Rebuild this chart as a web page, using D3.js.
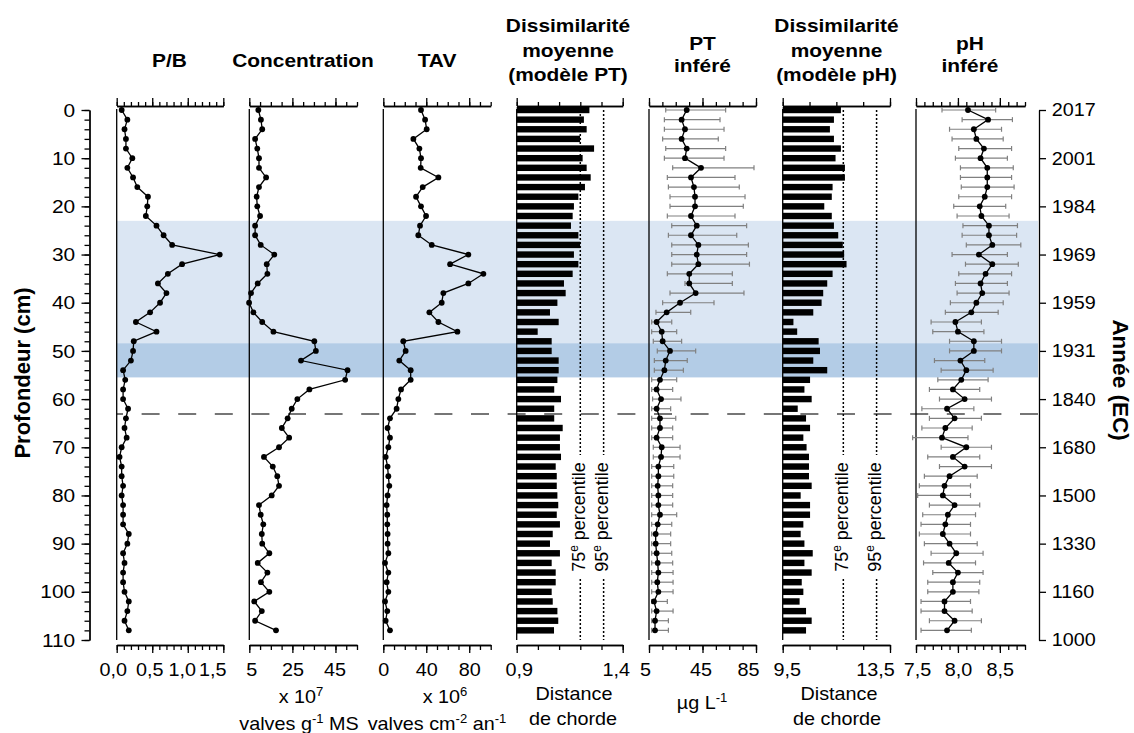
<!DOCTYPE html>
<html><head><meta charset="utf-8">
<script src="https://cdn.jsdelivr.net/npm/d3@7"></script>
<style>
body{margin:0;background:#fff}
svg{display:block}
</style>
</head><body>
<svg id="c" width="1134" height="733"></svg>
<script>
// ---------------- DATA ----------------
const depth = [0,2,4,6,8,10,12,14,16,18,20,22,24,26,28,30,32,34,36,38,40,42,44,46,48,50,52,54,56,58,60,62,64,66,68,70,72,74,76,78,80,82,84,86,88,90,92,94,96,98,100,102,104,106,108];

const pb = [0.07,0.15,0.11,0.13,0.13,0.22,0.15,0.23,0.29,0.44,0.43,0.41,0.56,0.66,0.78,1.45,0.92,0.72,0.58,0.70,0.61,0.47,0.27,0.56,0.24,0.23,0.20,
            0.09,0.12,0.09,0.09,0.16,0.13,0.11,0.14,0.07,0.04,0.07,0.07,0.09,0.07,0.09,0.09,0.09,0.17,0.15,0.09,0.11,0.09,0.09,0.11,0.17,0.15,0.11,0.17];

const concentration = [9.2,10.4,11.0,7.7,8.7,9.5,9.5,12.8,9.5,8.4,8.7,10.0,7.7,7.7,10.3,16.6,13.1,13.4,8.9,5.8,4.9,6.9,11.0,16.2,35.2,35.9,29.0,
            50.6,49.5,32.9,27.3,24.7,22.8,20.1,23.5,18.8,11.8,15.9,18.0,18.8,15.4,9.5,10.3,11.5,10.8,11.0,14.3,8.9,13.4,10.4,14.3,7.3,10.8,7.7,17.4];

const tav = [35.1,38.9,40.4,28.0,33.6,35.1,34.8,51.3,36.7,30.5,35.1,39.8,34.2,32.6,45.1,79.2,62.2,93.2,79.2,55.9,54.4,42.9,51.3,69.0,18.6,20.8,14.9,
            25.5,25.5,16.5,14.0,12.4,6.2,4.0,6.2,4.7,2.2,4.0,4.7,5.6,4.0,3.1,3.7,3.7,4.0,4.0,4.7,1.6,4.7,3.1,4.7,1.6,3.7,2.2,6.2];

const dissPT = [1.243,1.217,1.23,1.199,1.265,1.211,1.23,1.249,1.222,1.191,1.17,1.164,1.156,1.191,1.199,1.17,1.191,1.164,1.123,1.131,1.092,1.057,1.098,0.999,1.065,1.065,1.098,
            1.098,1.092,1.077,1.109,1.077,1.077,1.117,1.104,1.104,1.109,1.084,1.089,1.089,1.092,1.096,1.089,1.104,1.07,1.057,1.104,1.065,1.084,1.084,1.065,1.07,1.092,1.096,1.076];
const dissPTPercentiles = [1.2, 1.31];

const ptInf = [33.2,29.4,31.9,29.4,33.2,31.9,43.9,36.4,38.6,39.4,39.4,36.4,40.7,36.4,41.9,40.7,41.9,35.1,35.1,39.9,28.2,18.2,10.7,14.5,15.2,20.7,17.5,
            16.5,13.2,10.7,14.0,10.7,13.2,13.2,10.7,14.5,14.0,12.0,12.0,11.5,12.0,12.0,13.2,11.5,10.0,10.0,10.7,11.5,12.0,11.2,12.0,8.7,10.7,9.5,9.5];
const ptLow = [17.5,16.5,16.5,15.2,17.5,16.5,22.7,18.7,19.5,20.7,20.7,18.7,22.0,19.5,22.0,22.0,22.0,18.7,31.9,20.7,15.2,10.2,7.0,7.0,8.2,11.2,9.0,
            9.0,7.0,7.0,7.7,7.0,7.0,7.0,7.0,8.2,8.2,7.0,7.0,7.0,7.0,7.0,7.0,7.0,7.0,7.0,7.0,7.0,7.0,7.0,7.0,7.0,7.0,7.0,7.0];
const ptHigh = [62.3,58.1,61.1,56.8,62.3,61.1,83.5,69.3,72.5,76.8,75.5,69.3,78.0,70.6,79.3,78.0,80.1,67.3,67.3,76.0,53.6,36.2,22.0,25.7,29.4,39.9,33.6,
            30.7,25.7,22.7,28.9,21.2,25.0,22.7,22.7,28.2,28.2,23.5,23.5,22.7,22.7,22.7,25.7,22.0,21.2,21.2,22.0,22.7,23.0,23.0,23.0,18.7,23.0,19.5,19.5];

const dissPH = [11.67,11.41,11.26,11.41,11.67,11.47,11.82,11.82,11.36,11.33,11.05,11.33,11.41,11.57,11.74,11.79,11.88,11.36,11.16,11.01,10.95,10.64,9.90,10.04,10.84,10.89,10.64,
            11.16,10.52,10.31,10.58,10.06,10.37,10.52,10.27,10.39,10.48,10.48,10.48,10.58,10.17,10.52,10.52,10.27,10.17,10.31,10.62,10.31,10.58,10.21,10.27,10.13,10.37,10.58,10.37];
const dissPHPercentiles = [11.76, 13.0];

const phInf = [8.12,8.36,8.19,8.22,8.31,8.27,8.35,8.35,8.35,8.32,8.26,8.28,8.37,8.37,8.41,8.25,8.41,8.33,8.27,8.29,8.22,8.16,7.97,8.00,8.19,8.19,8.03,
            8.10,8.04,7.94,8.08,7.87,7.96,7.85,7.81,8.10,7.94,8.08,7.90,7.84,7.82,7.96,7.88,7.85,7.82,7.90,7.98,7.89,8.00,7.94,7.94,7.84,7.84,7.96,7.87];
const phLow = [7.81,8.05,7.90,7.93,8.01,7.97,8.03,8.03,8.04,8.01,7.95,7.99,8.06,8.05,8.10,7.93,8.09,8.01,7.97,7.99,7.91,7.85,7.68,7.70,7.90,7.90,7.72,
            7.80,7.76,7.66,7.78,7.57,7.66,7.57,7.46,7.80,7.64,7.78,7.60,7.54,7.52,7.66,7.58,7.56,7.54,7.60,7.68,7.59,7.70,7.64,7.64,7.56,7.56,7.66,7.56];
const phHigh = [8.45,8.65,8.52,8.54,8.64,8.59,8.66,8.64,8.67,8.64,8.57,8.61,8.71,8.70,8.75,8.59,8.72,8.64,8.59,8.61,8.54,8.48,8.28,8.31,8.52,8.52,8.32,
            8.42,8.36,8.26,8.40,8.19,8.28,8.17,8.12,8.40,8.26,8.40,8.23,8.15,8.15,8.26,8.21,8.15,8.15,8.23,8.30,8.21,8.30,8.26,8.25,8.15,8.17,8.28,8.16];

// zones (depth, cm)
const zoneLight = [23, 48.4];
const zoneDark = [48.4, 55.5];
const dashedDepth = 63.1;

// axes ticks & labels
const depthTicks = [0,10,20,30,40,50,60,70,80,90,100,110];
const yearLabels = ["2017","2001","1984","1969","1959","1931","1840","1680","1500","1330","1160","1000"];
const pbTicks = [0,0.5,1,1.5];           const pbTickLabels = ["0,0","0,5","1,0","1,5"];
const concTicks = [5,25,45];             const concTickLabels = ["5","25","45"];
const tavTicks = [0,40,80];              const tavTickLabels = ["0","40","80"];
const dissPTTicks = [0.9,1.4];           const dissPTTickLabels = ["0,9","1,4"];
const ptTicks = [5,45,85];               const ptTickLabels = ["5","45","85"];
const dissPHTicks = [9.5,13.5];          const dissPHTickLabels = ["9,5","13,5"];
const phTicks = [7.5,8.0,8.5];           const phTickLabels = ["7,5","8,0","8,5"];

// ---------------- DRAW ----------------
const FONT = '"Liberation Sans", Arial, Helvetica, sans-serif';
const SX = 1.1;
const svg = d3.select("#c");
const y = d3.scaleLinear().domain([0,110]).range([110,640]);

function label(x, yy, parts, o = {}) {
  const size = o.size || 18;
  const t = svg.append("text")
    .attr("transform", `translate(${x},${yy})` + (o.rotate ? ` rotate(${o.rotate})` : ` scale(${o.sx ?? SX},1)`))
    .attr("text-anchor", o.anchor || "middle")
    .attr("font-family", FONT)
    .attr("font-size", size)
    .attr("font-weight", o.weight || "normal")
    .attr("fill", "#000");
  let raised = false;
  (typeof parts === "string" ? [parts] : parts).forEach(p => {
    const sup = Array.isArray(p);
    const ts = t.append("tspan").text(sup ? p[0] : p);
    if (sup) { ts.attr("font-size", size * 0.66).attr("dy", -size * 0.4); raised = true; }
    else if (raised) { ts.attr("dy", size * 0.4); raised = false; }
  });
  return t;
}

// background zones
const xZone = [116.7, 1038];
svg.append("rect").attr("x", xZone[0]).attr("width", xZone[1]-xZone[0])
  .attr("y", y(zoneLight[0])).attr("height", y(zoneLight[1]) - y(zoneLight[0])).attr("fill", "#dbe6f3");
svg.append("rect").attr("x", xZone[0]).attr("width", xZone[1]-xZone[0])
  .attr("y", y(zoneDark[0])).attr("height", y(zoneDark[1]) - y(zoneDark[0])).attr("fill", "#b3cce6");

// dashed line
svg.append("line").attr("x1", 117).attr("x2", 1038).attr("y1", y(dashedDepth)).attr("y2", y(dashedDepth))
  .attr("stroke", "#4a4a4a").attr("stroke-width", 1.5).attr("stroke-dasharray", "18,18.6").attr("stroke-dashoffset", 12);

function styleAxis(g) {
  g.selectAll("path,line").attr("stroke", "#000").attr("stroke-width", 1.3);
  g.attr("font-size", null).attr("font-family", FONT);
}

// left depth axis
{
  const gMin = svg.append("g").attr("transform", "translate(89.5,0)")
    .call(d3.axisLeft(y).tickValues(d3.range(0, 111, 2)).tickSize(5).tickSizeOuter(0).tickFormat(""));
  styleAxis(gMin);
  const g = svg.append("g").attr("transform", "translate(89.5,0)")
    .call(d3.axisLeft(y).tickValues(depthTicks).tickSize(8).tickSizeOuter(0).tickFormat(d => String(d)));
  styleAxis(g);
  g.selectAll("text").attr("x", -13).attr("font-size", 19).attr("fill", "#000").attr("transform", `scale(${SX},1)`);
}
// right year axis
{
  const g = svg.append("g").attr("transform", "translate(1039,0)")
    .call(d3.axisRight(y).tickValues(depthTicks).tickSize(7).tickSizeOuter(0).tickFormat((d, i) => yearLabels[i]));
  styleAxis(g);
  g.selectAll("text").attr("x", 12).attr("font-size", 18.5).attr("fill", "#000").attr("transform", `scale(1.07,1)`);
}

const panels = [
  {vals: pb, x0: 116.7, x1: 223.3, dom: [0, 1.5], step: 0.1, ticks: pbTicks, labels: pbTickLabels, ldx: [-4, -3, -6, -11], type: "line"},
  {vals: concentration, x0: 249.3, x1: 357, dom: [5, 55], step: 5, ticks: concTicks, labels: concTickLabels, ldx: [2, 0, -1], type: "line"},
  {vals: tav, x0: 383.3, x1: 490.7, dom: [0, 100], step: 10, ticks: tavTicks, labels: tavTickLabels, ldx: [0, 0, 0], type: "line"},
  {vals: dissPT, x0: 516.7, x1: 622.7, dom: [0.9, 1.4], step: 0.1, ticks: dissPTTicks, labels: dissPTTickLabels, ldx: [2, -7], type: "bar", pct: dissPTPercentiles},
  {vals: ptInf, lo: ptLow, hi: ptHigh, x0: 649, x1: 756, dom: [5, 85], step: 10, ticks: ptTicks, labels: ptTickLabels, ldx: [-4, -2, -8], type: "line"},
  {vals: dissPH, x0: 782.7, x1: 890, dom: [9.5, 13.5], step: 1, ticks: dissPHTicks, labels: dissPHTickLabels, ldx: [4, -15], type: "bar", pct: dissPHPercentiles},
  {vals: phInf, lo: phLow, hi: phHigh, x0: 916, x1: 1025, dom: [7.5, 8.8], step: 0.1, ticks: phTicks, labels: phTickLabels, ldx: [1, 0, 0], type: "line"},
];

panels.forEach(p => {
  const x = d3.scaleLinear().domain(p.dom).range([p.x0, p.x1]);
  const minor = d3.range(p.dom[0], p.dom[1] + p.step / 2, p.step);
  // top axis
  [[minor, 4], [p.ticks, 8]].forEach(([tv, ts]) => {
    const g = svg.append("g").attr("transform", "translate(0,106)")
      .call(d3.axisTop(x).tickValues(tv).tickSize(ts).tickSizeOuter(0).tickFormat(""));
    styleAxis(g);
  });
  // bottom axis
  const gb1 = svg.append("g").attr("transform", "translate(0,645)")
    .call(d3.axisBottom(x).tickValues(minor).tickSize(5).tickSizeOuter(0).tickFormat(""));
  styleAxis(gb1);
  const gb = svg.append("g").attr("transform", "translate(0,645)")
    .call(d3.axisBottom(x).tickValues(p.ticks).tickSize(8).tickSizeOuter(0).tickFormat((d, i) => p.labels[i]));
  styleAxis(gb);
  gb.selectAll("text").attr("y", 31).attr("dy", null).attr("font-size", 18).attr("fill", "#000")
    .attr("transform", (d, i) => `translate(${p.ldx[i]},0) scale(${SX},1)`);

  // vertical base line
  svg.append("line").attr("x1", p.x0).attr("x2", p.x0).attr("y1", 109).attr("y2", 640)
    .attr("stroke", "#000").attr("stroke-width", 1.3);

  if (p.type === "bar") {
    svg.append("g").selectAll("rect").data(p.vals).join("rect")
      .attr("x", p.x0).attr("y", (d, i) => y(depth[i]) - 3.2)
      .attr("width", d => x(d) - p.x0).attr("height", 6.4).attr("fill", "#000");
    p.pct.forEach((v, k) => {
      const xl = x(v);
      const yc = 517;
      [[y(0), yc - 62], [yc + 62, y(110)]].forEach(([a, b]) => {
        svg.append("line").attr("x1", xl).attr("x2", xl).attr("y1", a).attr("y2", b)
          .attr("stroke", "#000").attr("stroke-width", 1.5).attr("stroke-dasharray", "2,2");
      });
      label(xl + 4.5, yc, [k === 0 ? "75" : "95", ["e"], " percentile"], {rotate: -90, size: 18});
    });
  } else {
    if (p.lo) {
      const ge = svg.append("g").attr("stroke", "#808080").attr("stroke-width", 1.2);
      p.vals.forEach((v, i) => {
        const yy = y(depth[i]);
        const a = x(p.lo[i]), b = x(p.hi[i]);
        ge.append("line").attr("x1", a).attr("x2", b).attr("y1", yy).attr("y2", yy);
        ge.append("line").attr("x1", a).attr("x2", a).attr("y1", yy - 2.5).attr("y2", yy + 2.5);
        ge.append("line").attr("x1", b).attr("x2", b).attr("y1", yy - 2.5).attr("y2", yy + 2.5);
      });
    }
    const line = d3.line().x(d => x(d[1])).y(d => y(d[0]));
    const pts = p.vals.map((v, i) => [depth[i], v]);
    svg.append("path").datum(pts).attr("d", line).attr("fill", "none").attr("stroke", "#000").attr("stroke-width", 1.3);
    svg.append("g").selectAll("circle").data(pts).join("circle")
      .attr("cx", d => x(d[1])).attr("cy", d => y(d[0])).attr("r", 2.9).attr("fill", "#000");
  }
});

// titles
const TB = {size: 19, weight: "bold"};
label(169.5, 67, "P/B", TB);
label(303, 67, "Concentration", TB);
label(437, 67, "TAV", TB);
label(568, 32, "Dissimilarité", TB);
label(568, 56.5, "moyenne", TB);
label(568, 81, "(modèle PT)", TB);
label(702.5, 50, "PT", TB);
label(702.5, 72, "inféré", TB);
label(836.5, 32, "Dissimilarité", TB);
label(836.5, 56.5, "moyenne", TB);
label(836.5, 81, "(modèle pH)", TB);
label(970, 50, "pH", TB);
label(970, 72, "inféré", TB);

// units
label(301, 703, ["x 10", ["7"]]);
label(299, 730, ["valves g", ["-1"], " MS"]);
label(445, 703, ["x 10", ["6"]]);
label(437, 730, ["valves cm", ["-2"], " an", ["-1"]]);
label(574, 700, "Distance");
label(573, 725, "de chorde");
label(702, 709, ["µg L", ["-1"]]);
label(839, 700, "Distance");
label(837, 725, "de chorde");

// axis titles
label(30, 373, "Profondeur (cm)", {rotate: -90, size: 22, weight: "bold"});
label(1113, 380, "Année (EC)", {rotate: 90, size: 22.5, weight: "bold"});
</script>
</body></html>
